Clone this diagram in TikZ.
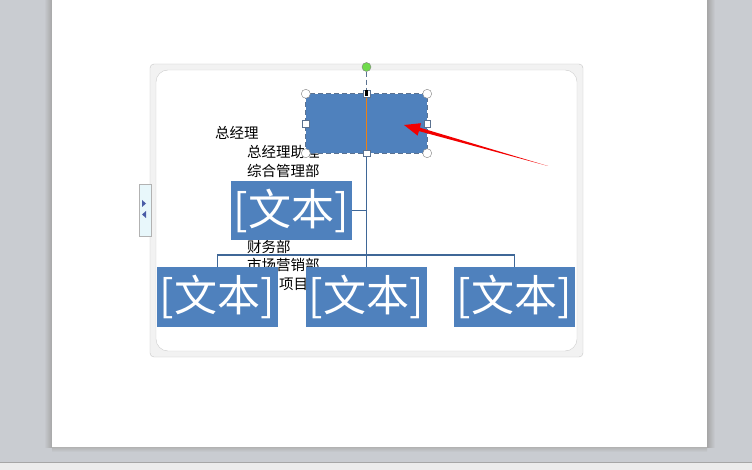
\documentclass[tikz,border=0pt]{standalone}
\usepackage{fontspec}
\newfontfamily\cjk{Noto Sans CJK SC}
\usetikzlibrary{positioning}
\definecolor{boxblue}{HTML}{4F81BD}
\definecolor{linkblue}{HTML}{3F6797}
\definecolor{deskgray}{HTML}{C9CCD1}
\definecolor{selgray}{HTML}{5B7290}
\definecolor{tabcyan}{HTML}{E8F7FB}

\begin{document}
\begin{tikzpicture}[x=1pt, y=-1pt,
  unit/.style={rectangle, fill=boxblue, minimum width=121pt, minimum height=59pt, inner sep=0pt, text=white, font=\cjk\fontsize{43}{43}\selectfont},
  panetext/.style={anchor=west, inner sep=0pt, font=\cjk\fontsize{14.5}{14.5}\selectfont},
  link/.style={draw=linkblue, line width=1.8pt},
  selline/.style={selgray, dash pattern=on 5pt off 3pt, line width=0.9pt},
  handle/.style={circle, draw=gray, fill=white, minimum size=9pt, inner sep=0pt},
  grip/.style={rectangle, draw=selgray, fill=white, minimum size=6.5pt, inner sep=0pt}
]
  \useasboundingbox (0,0) rectangle (752,470);
  % window and page
  \fill[deskgray] (0,0) rectangle (752,470);
  \shade[left color=deskgray, right color=gray!70] (44,0) rectangle (52,447);
  \shade[left color=gray!70, right color=deskgray] (707,0) rectangle (715,447);
  \shade[top color=gray!60, bottom color=deskgray] (52,447) rectangle (707,452);
  \fill[white] (52,0) rectangle (707,447);
  \fill[gray!15] (0,462) rectangle (752,470);
  \draw[gray!70] (0,462) -- (752,462);

  % smartart frame
  \draw[gray!45, fill=gray!10, rounded corners=4pt] (150,64) rectangle (583,357);
  \draw[gray!40, fill=white, rounded corners=12pt] (156,70) rectangle (577,351);
  \draw[gray!60, fill=tabcyan] (139,184) rectangle (151,236);
  \fill[selgray!80!blue] (142,200) -- (146,203.5) -- (142,207) -- cycle;
  \fill[selgray!80!blue] (146,211) -- (142,214.5) -- (146,218) -- cycle;

  % text pane leftovers
  \node[panetext] (t1) at (215,133) {总经理};
  \node[panetext] (t2) at (247,152) {总经理助理};
  \node[panetext] (t3) at (247,171) {综合管理部};
  \node[panetext] (t4) at (247,247) {财务部};
  \node[panetext] (t5) at (247,265) {市场营销部};
  \node[panetext] (t6) at (279,284) {项目部};

  % org chart
  \node[unit] (ceo) at (366.5,123.5) {};
  \node[unit] (aide) at (291.5,210.5) {[文本]};
  \node[unit] (d1) at (217.5,297) {[文本]};
  \node[unit] (d2) at (366.5,297) {[文本]};
  \node[unit] (d3) at (514.5,297) {[文本]};
  \coordinate (bus) at (d2.north |- 0,255);

  \draw[link] (ceo.south) -- (d2.north);
  \draw[link] (aide.east) -- (aide.east -| ceo.south);
  \draw[link] (d1.north) |- (bus) -| (d3.north);

  % selection marks
  \draw[selline] (ceo.north west) rectangle (ceo.south east);
  \node[circle, draw=gray, fill=green!60!olive!70, minimum size=9pt, inner sep=0pt] (rot) at (366.5,67) {};
  \draw[selline] (rot) -- (ceo.north);
  \draw[orange!70!brown, line width=1.4pt] (ceo.north) -- (ceo.south);
  \foreach \a in {north west, north east, south west, south east}
    \node[handle] at (ceo.\a) {};
  \foreach \a in {west, east, north, south}
    \node[grip] at (ceo.\a) {};
  \fill[black] (365,90) rectangle (368,96);

  % red pointer
  \coordinate (tail) at (548,166);
  \coordinate (tip) at (404,125);
  \fill[red!95!black] (tail) -- (419.9,127.7) -- (421.0,123.2) -- (tip)
    -- (417.6,135.6) -- (418.9,131.1) -- cycle;
\end{tikzpicture}
\end{document}
